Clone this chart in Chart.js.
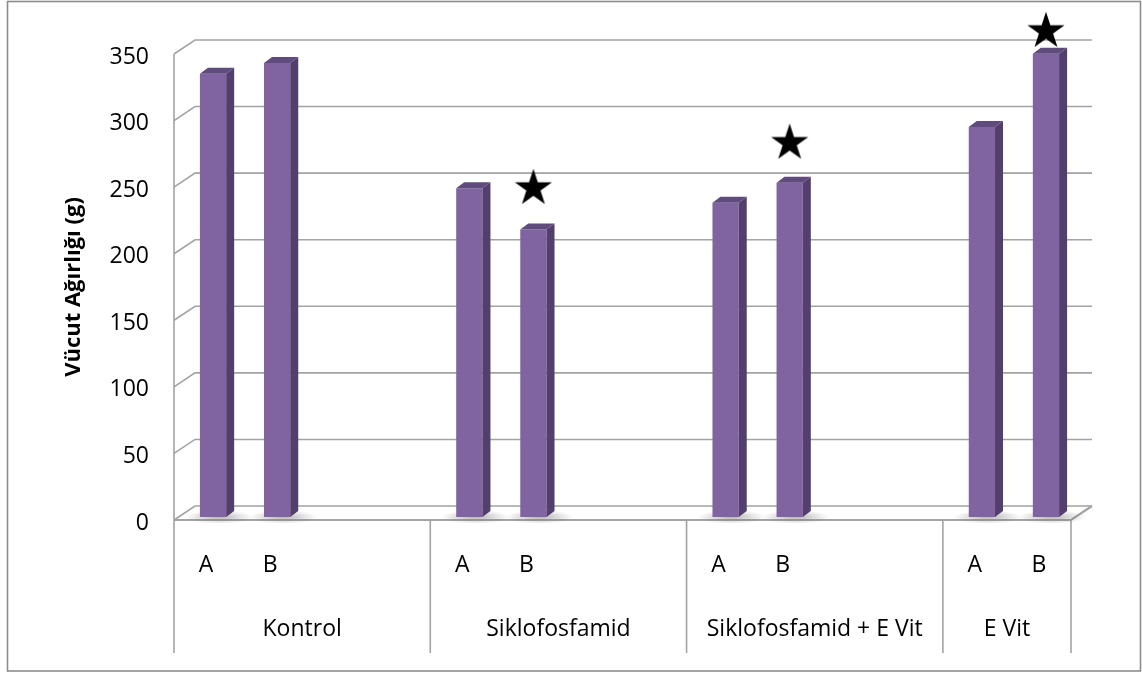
<!DOCTYPE html>
<html>
<head>
<meta charset="utf-8">
<script src="https://cdn.jsdelivr.net/npm/chart.js@4.4.0/dist/chart.umd.min.js"></script>
<style>
  html, body { margin: 0; padding: 0; background: #fff; }
  #wrap { width: 1142px; height: 673px; }
</style>
</head>
<body>
<div id="wrap"><canvas id="weightChart" width="1142" height="673"></canvas></div>
<script>
// groups on the x axis, Excel leaves two empty slots after the first three
const groups = ['Kontrol', 'Siklofosfamid', 'Siklofosfamid + E Vit', 'E Vit'];
const groupSlots = [4, 4, 4, 2];
const barLabels = ['A', 'B'];
const weightA = [333, 247, 236, 293];
const weightB = [341, 216, 251, 348];
// where the star sits above the B bar (null = no star)
const starAt = [null, 248, 282, 366];
const yTicks = [0, 50, 100, 150, 200, 250, 300, 350];

const labels = [], barData = [], starData = [], groupStart = [];
groups.forEach((g, i) => {
  groupStart.push(labels.length);
  for (let s = 0; s < groupSlots[i]; s++) {
    labels.push(s < barLabels.length ? barLabels[s] : '');
    barData.push(s === 0 ? weightA[i] : s === 1 ? weightB[i] : null);
    starData.push(s === 1 ? starAt[i] : null);
  }
});

// filled five point star used as point style
function starImage(r) {
  const c = document.createElement('canvas');
  const w = Math.ceil(2 * r * Math.sin(2 * Math.PI / 5)) + 2;
  const h = Math.ceil(r * (1 + Math.cos(Math.PI / 5))) + 2;
  c.width = w; c.height = h;
  const g = c.getContext('2d');
  const cx = w / 2, cy = r + 1;
  g.beginPath();
  for (let k = 0; k < 10; k++) {
    const rad = k % 2 ? r * 0.382 : r;
    const a = -Math.PI / 2 + k * Math.PI / 5;
    g.lineTo(cx + rad * Math.cos(a), cy + rad * Math.sin(a));
  }
  g.closePath();
  g.fillStyle = '#000';
  g.fill();
  return c;
}

// fake 3d look
const wallX = 21, wallY = -14;   // back wall offset
const shiftX = 7, shiftY = -3;    // bars sit a bit into the depth
const barX = 8, barY = -6;        // bar depth
const lineCol = '#a3a3a3';
const font = 'Open Sans';

const threeD = {
  id: 'threeD',
  beforeDatasetsDraw(chart) {
    const { ctx, chartArea: a, scales: { x, y } } = chart;
    const p0 = y.getPixelForValue(0);
    const slotW = (a.right - a.left) / labels.length;
    ctx.save();
    ctx.strokeStyle = lineCol;
    ctx.lineWidth = 1.6;
    yTicks.forEach(v => {
      const py = y.getPixelForValue(v);
      ctx.beginPath();
      ctx.moveTo(a.left, py);
      ctx.lineTo(a.left + wallX, py + wallY);
      ctx.lineTo(a.right + wallX, py + wallY);
      ctx.stroke();
    });
    // floor front edge and right side
    ctx.lineWidth = 2.2;
    ctx.beginPath();
    ctx.moveTo(a.left, p0);
    ctx.lineTo(a.right, p0);
    ctx.lineTo(a.right + wallX, p0 + wallY);
    ctx.stroke();
    // left wall edge and group separators
    ctx.lineWidth = 1.6;
    ctx.beginPath();
    ctx.moveTo(a.left, a.top);
    ctx.lineTo(a.left, 653);
    groupStart.slice(1).concat([labels.length]).forEach(i => {
      const px = a.left + i * slotW;
      ctx.moveTo(px, p0);
      ctx.lineTo(px, 653);
    });
    ctx.stroke();
    // group names
    ctx.fillStyle = '#000';
    ctx.font = '23px "' + font + '"';
    ctx.textAlign = 'center';
    ctx.textBaseline = 'middle';
    groups.forEach((g, i) => {
      const cx = a.left + (groupStart[i] + groupSlots[i] / 2) * slotW;
      ctx.fillText(g, cx, 629);
    });
    ctx.restore();

    // bar shadows on the floor
    ctx.save();
    ctx.translate(shiftX, shiftY);
    chart.getDatasetMeta(0).data.forEach((bar, i) => {
      if (barData[i] == null) return;
      const cx = bar.x + 6, cy = bar.base;
      const grd = ctx.createRadialGradient(cx, cy, 0, cx, cy, 34);
      grd.addColorStop(0, 'rgba(120,120,120,0.55)');
      grd.addColorStop(1, 'rgba(120,120,120,0)');
      ctx.save();
      ctx.translate(cx, cy);
      ctx.scale(1, 0.2);
      ctx.translate(-cx, -cy);
      ctx.fillStyle = grd;
      ctx.beginPath();
      ctx.arc(cx, cy, 34, 0, Math.PI * 2);
      ctx.fill();
      ctx.restore();
    });
  },
  afterDatasetsDraw(chart) {
    const { ctx } = chart;
    chart.getDatasetMeta(0).data.forEach((bar, i) => {
      if (barData[i] == null) return;
      const l = bar.x - bar.width / 2, r = bar.x + bar.width / 2;
      const t = bar.y, b = bar.base;
      ctx.fillStyle = '#5f4b7d';
      ctx.beginPath();
      ctx.moveTo(l, t); ctx.lineTo(l + barX, t + barY);
      ctx.lineTo(r + barX, t + barY); ctx.lineTo(r, t);
      ctx.closePath(); ctx.fill();
      ctx.fillStyle = '#523f6b';
      ctx.beginPath();
      ctx.moveTo(r, t); ctx.lineTo(r + barX, t + barY);
      ctx.lineTo(r + barX, b + barY); ctx.lineTo(r, b);
      ctx.closePath(); ctx.fill();
    });
    ctx.restore();
  },
  afterDraw(chart) {
    const { ctx } = chart;
    ctx.save();
    ctx.strokeStyle = '#8c8c8c';
    ctx.lineWidth = 1.6;
    ctx.strokeRect(7.5, 1.5, 1133, 669.5);
    ctx.restore();
  }
};

new Chart(document.getElementById('weightChart'), {
  data: {
    labels: labels,
    datasets: [{
      type: 'bar',
      data: barData,
      backgroundColor: '#8064a2',
      borderWidth: 0,
      categoryPercentage: 1,
      barPercentage: 0.41,
      clip: false
    }, {
      type: 'line',
      data: starData,
      showLine: false,
      pointStyle: starImage(19.5),
      // large radius so the top star is not culled outside the chart area
      pointRadius: 45,
      pointHoverRadius: 45,
      clip: false
    }]
  },
  options: {
    responsive: false,
    devicePixelRatio: 1,
    animation: false,
    events: [],
    layout: { padding: { left: 0, right: 71, top: 54, bottom: 0 } },
    plugins: { legend: { display: false }, tooltip: { enabled: false } },
    scales: {
      x: {
        grid: { display: false, drawTicks: false },
        border: { display: false },
        ticks: { autoSkip: false, maxRotation: 0, padding: 32, color: '#000', font: { family: font, size: 23 } },
        afterFit: s => { s.height = 153; }
      },
      y: {
        min: 0, max: 350,
        afterBuildTicks: s => { s.ticks = yTicks.map(v => ({ value: v })); },
        grid: { display: false, drawTicks: false },
        border: { display: false },
        ticks: { padding: 25, labelOffset: 3, color: '#000', font: { family: font, size: 23 } },
        title: {
          display: true, text: 'Vücut Ağırlığı (g)', color: '#000',
          font: { family: font, size: 22, weight: 'bold' },
          padding: { top: 61, bottom: 0 }
        },
        afterFit: s => { s.width = 174; }
      }
    }
  },
  plugins: [threeD]
});
</script>
</body>
</html>
